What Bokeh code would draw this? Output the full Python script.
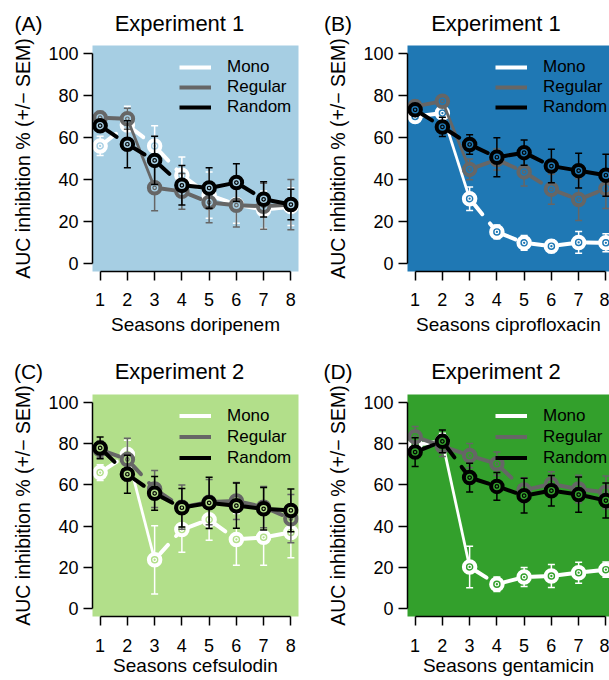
from bokeh.plotting import figure
from bokeh.layouts import row, column
from bokeh.models import Range1d, FixedTicker, Label, Legend, LegendItem, ColumnDataSource
from bokeh.embed import file_html
from bokeh.resources import INLINE

seasons = [1, 2, 3, 4, 5, 6, 7, 8]
series_names = ["Mono", "Regular", "Random"]
y_ticks = [0, 20, 40, 60, 80, 100]

# Panel A - doripenem (Experiment 1)
a_mono = [56, 66, 56, 42, 32.5, 28, 25.5, 27]
a_mono_err = [4.6, 9, 9.6, 8.7, 11, 9, 9, 9]
a_regular = [69.5, 69, 36, 34.3, 29, 27.7, 27.2, 28]
a_regular_err = [3, 5, 11, 8.5, 9.7, 10.4, 11, 12]
a_random = [65.7, 56.8, 49.1, 37.2, 35.9, 38.5, 30.5, 28]
a_random_err = [2.5, 11.2, 11.5, 9.4, 9.7, 9, 8.4, 7.3]

# Panel B - ciprofloxacin (Experiment 1)
b_mono = [70.1, 71.7, 30.8, 14.9, 9.7, 8.1, 9.9, 9.7]
b_mono_err = [2, 2.5, 5.6, 3.3, 3.5, 3, 5.2, 4.3]
b_regular = [74.9, 77.4, 44.8, 49.5, 43.6, 35.3, 30.4, 35.6]
b_regular_err = [2, 2.5, 5, 5, 6.8, 7.2, 10, 9.5]
b_random = [73.3, 65.1, 56.7, 50.6, 52.8, 46.4, 44.2, 42]
b_random_err = [2, 4.6, 4.7, 9.3, 6, 8, 8.3, 10]

# Panel C - cefsulodin (Experiment 2)
c_mono = [66, 74.8, 23.6, 38.3, 43.1, 33.5, 34.5, 36.9]
c_mono_err = [3.8, 7, 16.6, 11, 10, 12.6, 13.6, 12.3]
c_regular = [77.2, 72.4, 58, 49.2, 51.6, 52.2, 49.2, 43.6]
c_regular_err = [4, 10.3, 9, 10.8, 11, 9, 10, 11.7]
c_random = [78, 65.2, 55.9, 48.9, 51.3, 49.9, 48.4, 47.6]
c_random_err = [5.3, 9.3, 8.2, 9.4, 12.5, 11, 10.3, 10.4]

# Panel D - gentamicin (Experiment 2)
d_mono = [79.6, 81.2, 20.1, 11.7, 15.2, 15.7, 17.3, 18.8]
d_mono_err = [5, 4, 10.1, 3.5, 4.6, 5.6, 5.1, 3.7]
d_regular = [83.4, 78.8, 74.3, 70.3, 57.5, 60.4, 58, 56.4]
d_regular_err = [5, 5, 5.9, 5.7, 6, 6, 6.7, 8]
d_random = [76, 81.2, 63.6, 59.3, 54.8, 57.2, 55.3, 52.4]
d_random_err = [7, 5.5, 7, 6.7, 8.4, 7.4, 8.6, 8.5]

panel_letters = ["(A)", "(B)", "(C)", "(D)"]
panel_titles = ["Experiment 1", "Experiment 1", "Experiment 2", "Experiment 2"]
x_labels = ["Seasons doripenem", "Seasons ciprofloxacin", "Seasons cefsulodin", "Seasons gentamicin"]
y_label = "AUC inhibition % (+/\u2212 SEM)"

panel_data = [
    [(a_mono, a_mono_err), (a_regular, a_regular_err), (a_random, a_random_err)],
    [(b_mono, b_mono_err), (b_regular, b_regular_err), (b_random, b_random_err)],
    [(c_mono, c_mono_err), (c_regular, c_regular_err), (c_random, c_random_err)],
    [(d_mono, d_mono_err), (d_regular, d_regular_err), (d_random, d_random_err)],
]

BG = ["#a6cee3", "#1f78b4", "#b2df8a", "#33a02c"]
SERIES_COLORS = ["#ffffff", "#666666", "#000000"]
FONT = "Liberation Sans"
NAN = float("nan")

Y0, Y1 = -4, 104
X0 = 0.72

# geometry per row / column (pixels)
ROW = [
    dict(head=36, top=9, fh=226, bottom=69, tick_sd=12, lab_sd=5, base=23, leg_top=8, leg_h=20, leg_dy=4),
    dict(head=45, top=9, fh=222, bottom=64, tick_sd=13, lab_sd=0, base=31, leg_top=7, leg_h=21, leg_dy=4),
]
COL = [
    dict(w=304, left=92, fw=206, right=6, title_x=179, letter_x=28, leg_x=87),
    dict(w=305, left=103, fw=202, right=0, title_x=191.5, letter_x=33.5, leg_x=88),
]
PX_PER_SEASON = 27.25


def make_header(i):
    r = ROW[i // 2]
    c = COL[i % 2]
    h = figure(frame_width=c["w"], frame_height=r["head"], min_border=0, title=None,
               x_range=Range1d(0, c["w"]), y_range=Range1d(r["head"], 0),
               x_axis_location=None, y_axis_location=None,
               output_backend="svg", toolbar_location=None)
    h.outline_line_color = None
    h.grid.visible = False
    h.background_fill_color = "white"
    h.border_fill_color = "white"
    h.add_layout(Label(x=c["title_x"], y=r["base"], text=panel_titles[i],
                       text_font=FONT, text_font_size="22px", text_align="center",
                       text_baseline="alphabetic", text_color="black"))
    h.add_layout(Label(x=c["letter_x"], y=r["base"], text=panel_letters[i],
                       text_font=FONT, text_font_size="21px", text_align="center",
                       text_baseline="alphabetic", text_color="black"))
    return h


def make_panel(i):
    r = ROW[i // 2]
    c = COL[i % 2]
    bg = BG[i]
    x1 = X0 + c["fw"] / PX_PER_SEASON
    p = figure(frame_width=c["fw"], frame_height=r["fh"], title=None,
               min_border_left=c["left"], min_border_right=c["right"],
               min_border_top=r["top"], min_border_bottom=r["bottom"],
               x_range=Range1d(X0, x1), y_range=Range1d(Y0, Y1),
               output_backend="svg", toolbar_location=None)
    p.background_fill_color = bg
    p.border_fill_color = "white"
    p.outline_line_color = None
    p.grid.visible = False

    for ax in (p.xaxis[0], p.yaxis[0]):
        ax.axis_line_width = 1.5
        ax.axis_line_color = "black"
        ax.major_tick_line_width = 1.5
        ax.major_tick_line_color = "black"
        ax.major_tick_out = 9
        ax.major_tick_in = 0
        ax.minor_tick_line_color = None
        ax.major_label_text_font = FONT
        ax.major_label_text_font_size = "18px"
        ax.major_label_text_color = "black"
        ax.axis_label_text_font = FONT
        ax.axis_label_text_font_size = "19px"
        ax.axis_label_text_font_style = "normal"
        ax.axis_label_text_color = "black"
    p.yaxis.axis_label_text_font_size = "19.5px"

    p.xaxis.ticker = FixedTicker(ticks=seasons)
    p.xaxis.bounds = (seasons[0], seasons[-1])
    p.xaxis.axis_label = x_labels[i]
    p.xaxis.major_label_standoff = r["tick_sd"]
    p.xaxis.axis_label_standoff = r["lab_sd"]

    p.yaxis.ticker = FixedTicker(ticks=y_ticks)
    p.yaxis.bounds = (y_ticks[0], y_ticks[-1])
    p.yaxis.axis_label = y_label
    p.yaxis.major_label_standoff = 5
    p.yaxis.axis_label_standoff = 11

    legend_items = []
    for (vals, errs), name, col in zip(panel_data[i], series_names, SERIES_COLORS):
        lo = [v - e for v, e in zip(vals, errs)]
        hi = [v + e for v, e in zip(vals, errs)]
        src = ColumnDataSource(dict(x=seasons, y=vals, lo=lo, hi=hi))
        # error bars
        p.segment(x0="x", y0="lo", x1="x", y1="hi", source=src, line_color=col, line_width=1.5)
        p.scatter(x="x", y="lo", source=src, marker="dash", size=7, line_color=col, line_width=1.5)
        p.scatter(x="x", y="hi", source=src, marker="dash", size=7, line_color=col, line_width=1.5)
        # connecting segments (steep drops render as a thin solid line)
        dashed = dict(x0=[], y0=[], x1=[], y1=[])
        solid = dict(x0=[], y0=[], x1=[], y1=[])
        for k in range(len(seasons) - 1):
            tgt = solid if abs(vals[k + 1] - vals[k]) > 30 else dashed
            tgt["x0"].append(seasons[k]); tgt["y0"].append(vals[k])
            tgt["x1"].append(seasons[k + 1]); tgt["y1"].append(vals[k + 1])
        p.segment(x0="x0", y0="y0", x1="x1", y1="y1", source=ColumnDataSource(dashed),
                  line_color=col, line_width=4, line_dash="12 12", line_dash_offset=16,
                  line_cap="round")
        p.segment(x0="x0", y0="y0", x1="x1", y1="y1", source=ColumnDataSource(solid),
                  line_color=col, line_width=2.8)
        # markers
        p.scatter(x="x", y="y", source=src, marker="circle", size=11.5, line_color=col,
                  line_width=4, fill_color=bg)
        p.scatter(x="x", y="y", source=src, marker="circle", size=3.5, line_color=col,
                  line_width=1.2, fill_color=bg)
        leg_r = p.line(x=[NAN], y=[NAN], line_color=col, line_width=4)
        legend_items.append(LegendItem(label=name, renderers=[leg_r]))

    leg_box_h = 2 * 4 + 3 * r["leg_h"]
    legend = Legend(items=legend_items,
                    location=(c["leg_x"], r["fh"] - r["leg_top"] - leg_box_h + r["leg_dy"]),
                    glyph_width=32, glyph_height=r["leg_h"], label_height=r["leg_h"],
                    label_standoff=16, padding=4, spacing=0, margin=0,
                    background_fill_alpha=0, border_line_color=None,
                    label_text_font=FONT, label_text_font_size="17px",
                    label_text_color="black")
    p.add_layout(legend)
    return p


headers = [make_header(i) for i in range(4)]
panels = [make_panel(i) for i in range(4)]
layout = column(row(headers[0], headers[1]), row(panels[0], panels[1]),
                row(headers[2], headers[3]), row(panels[2], panels[3]))

open("out.html", "w").write(file_html(layout, INLINE))
